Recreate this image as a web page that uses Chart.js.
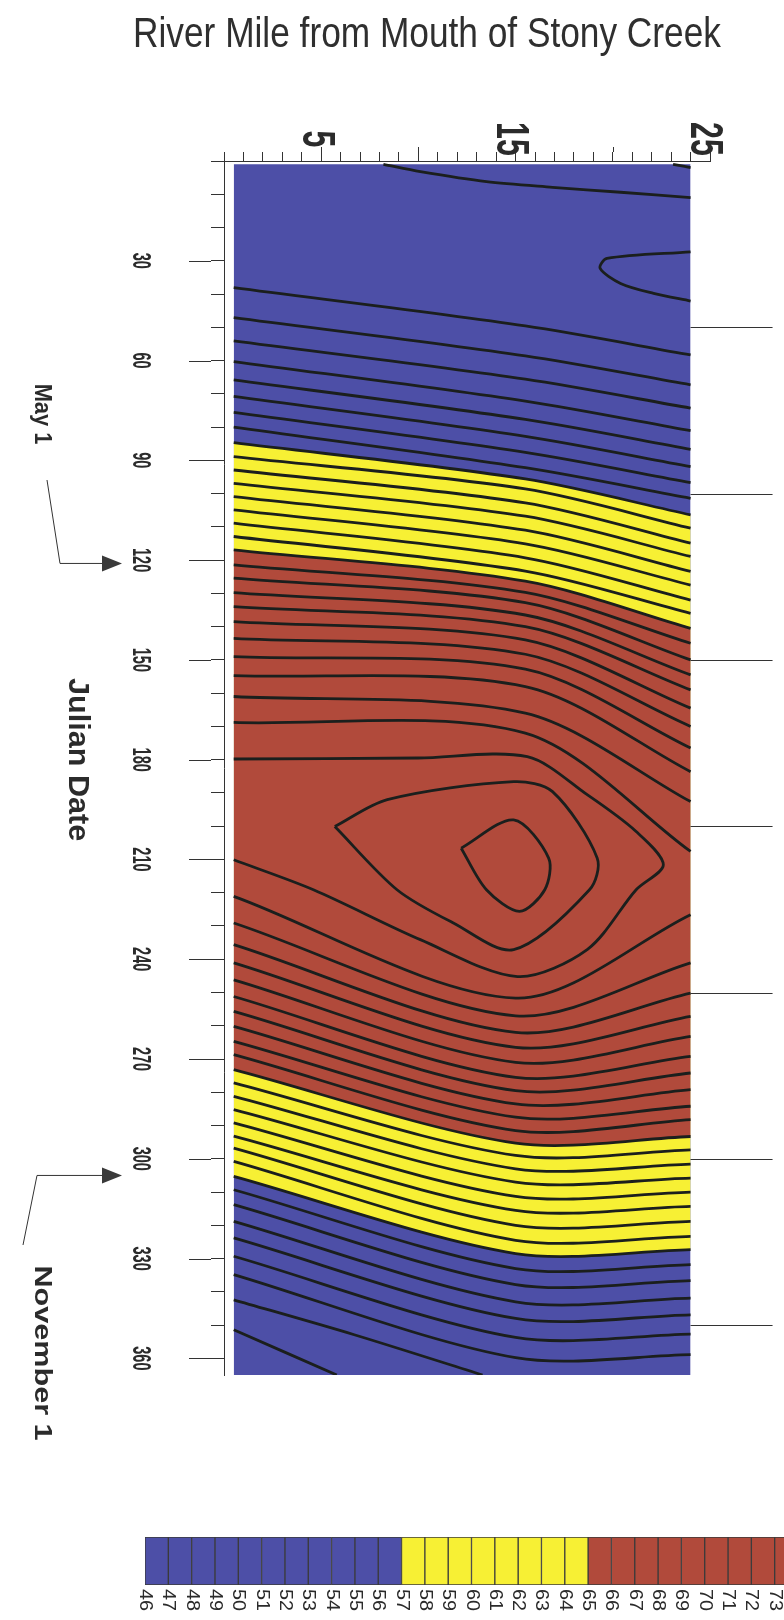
<!DOCTYPE html>
<html>
<head>
  <title>Stony Creek Temperature Contours</title>
  <script src="https://cdn.jsdelivr.net/npm/chart.js"></script>
  <style>
    body { margin: 0; background: #fff; }
    #wrap { position: relative; width: 784px; height: 1620px; }
    #wrap canvas { position: absolute; left: 0; }
  </style>
</head>
<body>
<div id="wrap">
  <canvas id="contour" width="784" height="1620" style="top:0"></canvas>
  <canvas id="scaleBar" width="784" height="120" style="top:1500px"></canvas>
</div>
<script>
// water temperature (deg F) by river mile and julian date, one contour per degree
const mileTicks = [5, 15, 25];
const dayTicks = [30, 60, 90, 120, 150, 180, 210, 240, 270, 300, 330, 360];
const stationDays = [50, 100, 150, 200, 250, 300, 350];
const legendLevels = [46, 47, 48, 49, 50, 51, 52, 53, 54, 55, 56, 57, 58, 59, 60, 61, 62, 63, 64, 65, 66, 67, 68, 69, 70, 71, 72, 73];
const bandBreaks = [57, 65];
const bandColors = ['#4d4fa7', '#f7f034', '#b14a3b'];
const markers = [{ text: 'May 1', day: 121 }, { text: 'November 1', day: 305 }];

const firstMile = 0.5, lastMile = 24, firstDay = 1, lastDay = 365;
const riseKneeMile = 15.5, fallKneeMile = 15;

// warming limb: day where each isotherm meets the mouth end, the bend, the upstream end
const riseLevels = [49, 50, 51, 52, 53, 54, 55, 56, 57, 58, 59, 60, 61, 62, 63, 64, 65, 66, 67, 68, 69, 70, 71, 72, 73, 74, 75];
const riseLeft  = [38.1, 47.1, 54.1, 60.3, 65.8, 70.8, 75.6, 80.0, 84.7, 88.9, 92.9, 96.9, 100.9, 104.9, 108.9, 112.9, 116.9, 121.4, 125.4, 129.8, 134.0, 138.5, 143.5, 149.0, 154.7, 161.0, 168.8];
const riseKnee  = [49.6, 58.6, 65.6, 72.2, 77.7, 82.8, 87.6, 92.2, 95.6, 98.6, 102.8, 106.8, 111.0, 115.1, 119.3, 123.3, 126.3, 129.7, 132.8, 136.5, 140.0, 144.0, 148.3, 152.8, 158.0, 166.0, 172.0];
const riseRight = [58.3, 67.3, 74.3, 81.1, 86.7, 91.9, 96.7, 101.4, 106.4, 110.4, 114.9, 118.9, 123.4, 127.5, 132.0, 136.0, 140.5, 145.0, 150.0, 154.5, 159.0, 164.5, 170.0, 176.5, 183.6, 192.6, 207.6];

// cooling limb
const fallLevels = [75, 74, 73, 72, 71, 70, 69, 68, 67, 66, 65, 64, 63, 62, 61, 60, 59, 58, 57, 56, 55, 54, 53, 52, 51];
const fallLeft  = [221.1, 229.1, 235.6, 241.1, 246.2, 251.2, 255.7, 260.2, 264.7, 268.7, 273.2, 277.2, 281.2, 285.2, 289.2, 293.2, 296.8, 300.8, 305.3, 309.3, 313.8, 318.8, 323.8, 329.3, 334.8];
const fallKnee  = [251.7, 257.0, 262.0, 266.5, 271.0, 275.5, 279.5, 283.5, 287.5, 291.5, 295.3, 299.0, 303.0, 307.0, 311.3, 315.5, 320.0, 324.5, 328.5, 333.0, 337.8, 343.0, 348.0, 353.7, 359.8];
const fallRight = [226.6, 241.1, 250.2, 257.2, 263.2, 269.2, 274.2, 279.2, 284.2, 288.2, 293.3, 297.3, 301.6, 305.8, 310.0, 314.3, 318.8, 323.3, 327.3, 331.8, 336.6, 341.9, 346.9, 352.7, 358.9];

// odd shaped isotherms as [mile, day]
const iso50corner = [[23.1, 1], [24, 2.0]];
const iso49winter = [[8.2, 1], [10.1, 3.2], [13.5, 6.2], [16.9, 7.9], [20.4, 9.4], [24, 11.0]];
const iso48tongue = [[24, 27.3], [19.7, 29.3], [19.35, 32.3], [20.4, 36.8], [22.1, 39.8], [24, 42.1]];
const iso76 = [[0.5, 179.8], [10, 179.5], [15.6, 179.1], [18.7, 190.6], [21.2, 201.6], [22.6, 211.6], [21.2, 219.1], [18.7, 237.0], [15.1, 245.2], [10.1, 234.1], [4.6, 219.1], [0.5, 210.1]];
const iso77 = [[5.7, 200.1], [8.4, 192.0], [14.9, 186.6], [16.9, 189.6], [19.2, 209.6], [18.8, 219.1], [14.9, 237.1], [11.8, 229.1], [8.9, 219.1], [5.7, 200.1]];
const iso78 = [[12.2, 206.6], [14.9, 198.1], [16.7, 209.6], [16.5, 219.1], [15.2, 225.6], [13.5, 219.1], [12.2, 206.6]];
const iso50fall = [[0.5, 342.4], [6.7, 352.9], [13.3, 365]];
const iso49fall = [[0.5, 351.4], [5.8, 365]];

function bandColor(level) {
  if (level < bandBreaks[0]) return bandColors[0];
  if (level < bandBreaks[1]) return bandColors[1];
  return bandColors[2];
}
const pts = arr => arr.map(p => ({ x: p[0], y: p[1] }));
const lineStyle = { borderColor: '#1b1f1d', borderWidth: 2.8, pointRadius: 0, fill: false, tension: 0.3 };

const datasets = [];
const riseIdx = {}, fallIdx = {};
riseLevels.forEach((lv, i) => {
  riseIdx[lv] = datasets.length;
  datasets.push({ label: 'rise ' + lv, data: pts([[firstMile, riseLeft[i]], [riseKneeMile, riseKnee[i]], [lastMile, riseRight[i]]]), ...lineStyle });
});
fallLevels.forEach((lv, i) => {
  fallIdx[lv] = datasets.length;
  datasets.push({ label: 'fall ' + lv, data: pts([[firstMile, fallLeft[i]], [fallKneeMile, fallKnee[i]], [lastMile, fallRight[i]]]), ...lineStyle });
});
[iso50corner, iso49winter, iso48tongue, iso76, iso77, iso78, iso50fall, iso49fall].forEach(a => {
  datasets.push({ label: 'iso', data: pts(a), ...lineStyle });
});
// colour bands: warm band between the two 65 lines, mild band between the 57 lines
Object.assign(datasets[riseIdx[bandBreaks[1]]], { fill: fallIdx[bandBreaks[1]], backgroundColor: bandColors[2], order: 1 });
Object.assign(datasets[riseIdx[bandBreaks[0]]], { fill: fallIdx[bandBreaks[0]], backgroundColor: bandColors[1], order: 2 });
datasets.push({ label: 'base', data: pts([[firstMile, firstDay], [lastMile, firstDay]]), borderWidth: 0, pointRadius: 0, fill: { value: lastDay }, backgroundColor: bandColors[0], order: 3 });

function vText(ctx, str, x, y, font, squeeze) {
  ctx.save();
  ctx.translate(x, y);
  ctx.rotate(Math.PI / 2);
  ctx.scale(squeeze, 1);
  ctx.font = font;
  ctx.textAlign = 'center';
  ctx.textBaseline = 'middle';
  ctx.fillText(str, 0, 0);
  ctx.restore();
}

const decor = {
  id: 'decor',
  afterDraw(chart) {
    const { ctx, scales: { x, y } } = chart;
    const top = chart.chartArea.top, left = chart.chartArea.left;
    ctx.save();
    ctx.strokeStyle = '#333';
    ctx.lineWidth = 1;
    // longer ticks for labelled steps
    ctx.beginPath();
    for (let m = 5; m <= 25; m += 5) {
      const px = Math.round(x.getPixelForValue(m)) + 0.5;
      ctx.moveTo(px, top - 9); ctx.lineTo(px, top - 14);
    }
    dayTicks.forEach(d => {
      const py = Math.round(y.getPixelForValue(d)) + 0.5;
      ctx.moveTo(left - 13, py); ctx.lineTo(left - 35, py);
    });
    // station markers along the upstream edge
    const xr = x.getPixelForValue(lastMile);
    stationDays.forEach(d => {
      const py = Math.round(y.getPixelForValue(d)) + 0.5;
      ctx.moveTo(xr, py); ctx.lineTo(xr + 82, py);
    });
    ctx.stroke();

    ctx.fillStyle = '#2b2b2b';
    mileTicks.forEach(m => vText(ctx, String(m), x.getPixelForValue(m) - 6, 139, 'bold 46px "Liberation Sans", Arial, sans-serif', 0.66));
    dayTicks.forEach(d => vText(ctx, String(d), 140, y.getPixelForValue(d), 'bold 26px "Liberation Sans", Arial, sans-serif', 0.56));

    // title
    ctx.save();
    ctx.translate(427, 47);
    ctx.scale(0.82, 1);
    ctx.font = '43px "Liberation Sans", Arial, sans-serif';
    ctx.textAlign = 'center';
    ctx.textBaseline = 'alphabetic';
    ctx.fillStyle = '#2f2f2f';
    ctx.fillText('River Mile from Mouth of Stony Creek', 0, 0);
    ctx.restore();

    vText(ctx, 'Julian Date', 77, y.getPixelForValue(180), 'bold 30px "Liberation Sans", Arial, sans-serif', 1.02);

    // date markers with arrows to the axis
    const may = y.getPixelForValue(markers[0].day), nov = y.getPixelForValue(markers[1].day);
    vText(ctx, markers[0].text, 41, 414, 'bold 23px "Liberation Sans", Arial, sans-serif', 0.95);
    vText(ctx, markers[1].text, 41, 1353, 'bold 23px "Liberation Sans", Arial, sans-serif', 1.33);
    ctx.beginPath();
    ctx.moveTo(47, 480); ctx.lineTo(60, may); ctx.lineTo(104, may);
    ctx.moveTo(23, 1245); ctx.lineTo(37, nov); ctx.lineTo(104, nov);
    ctx.stroke();
    ctx.fillStyle = '#3a3a3a';
    [may, nov].forEach(py => {
      ctx.beginPath();
      ctx.moveTo(102, py - 8); ctx.lineTo(122, py); ctx.lineTo(102, py + 8);
      ctx.closePath(); ctx.fill();
    });
    ctx.restore();
  }
};

new Chart(document.getElementById('contour'), {
  type: 'line',
  data: { datasets },
  options: {
    responsive: false,
    animation: false,
    devicePixelRatio: 1,
    layout: { padding: { left: 211, right: 74, top: 152, bottom: 245 } },
    scales: {
      x: {
        type: 'linear', position: 'top', min: 0, max: 25,
        ticks: { stepSize: 1, display: false },
        grid: { drawOnChartArea: false, tickLength: 9, color: '#333' },
        border: { color: '#333' }
      },
      y: {
        type: 'linear', reverse: true, min: 0, max: 365,
        ticks: { stepSize: 10, display: false },
        afterBuildTicks: s => { s.ticks = s.ticks.filter(t => t.value % 10 === 0); },
        grid: { drawOnChartArea: false, tickLength: 13, color: '#333' },
        border: { color: '#333' }
      }
    },
    plugins: {
      legend: { display: false },
      tooltip: { enabled: false },
      filler: { drawTime: 'beforeDatasetsDraw' }
    }
  },
  plugins: [decor]
});

// colour key
const keyLabels = {
  id: 'keyLabels',
  afterDraw(chart) {
    const { ctx, scales: { x } } = chart;
    ctx.save();
    ctx.fillStyle = '#2b2b2b';
    legendLevels.forEach(v => {
      ctx.save();
      ctx.translate(x.getPixelForValue(v), chart.chartArea.bottom + 4);
      ctx.rotate(Math.PI / 2);
      ctx.scale(1.1, 1);
      ctx.font = '18px "Liberation Sans", Arial, sans-serif';
      ctx.textAlign = 'left';
      ctx.textBaseline = 'middle';
      ctx.fillText(String(v), 0, 0);
      ctx.restore();
    });
    ctx.restore();
  }
};

new Chart(document.getElementById('scaleBar'), {
  type: 'bar',
  data: {
    labels: ['key'],
    datasets: legendLevels.map(v => ({
      data: [[v, v + 1]],
      backgroundColor: bandColor(v),
      borderColor: '#3b3b3b',
      borderWidth: 1,
      borderSkipped: false,
      grouped: false,
      barPercentage: 1,
      categoryPercentage: 1
    }))
  },
  options: {
    indexAxis: 'y',
    responsive: false,
    animation: false,
    devicePixelRatio: 1,
    layout: { padding: { left: 145, right: 0, top: 37, bottom: 35 } },
    scales: {
      x: { type: 'linear', min: 46, max: 73.4, display: false },
      y: { display: false }
    },
    plugins: { legend: { display: false }, tooltip: { enabled: false } }
  },
  plugins: [keyLabels]
});
</script>
</body>
</html>
